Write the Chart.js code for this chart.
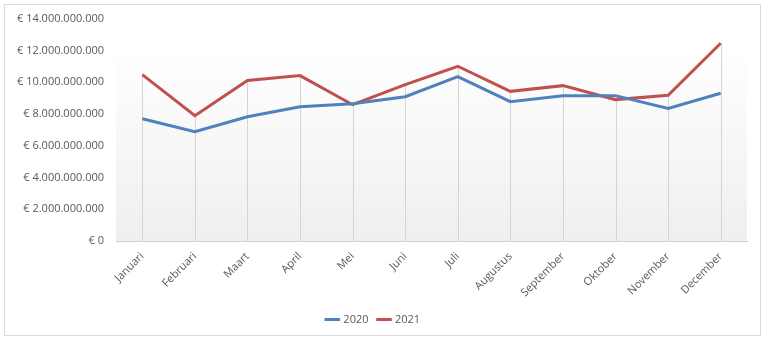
<!DOCTYPE html>
<html>
<head>
<meta charset="utf-8">
<script src="https://cdn.jsdelivr.net/npm/chart.js@4"></script>
<style>
  html, body { margin: 0; padding: 0; background: #fff; }
  #wrap { position: relative; width: 768px; height: 343px; }
  #frame { position: absolute; left: 4px; top: 4px; width: 757px; height: 332px; border: 1px solid #d9d9d9; box-sizing: border-box; }
  canvas { position: absolute; left: 0; top: 0; }
</style>
</head>
<body>
<div id="wrap">
  <div id="frame"></div>
  <canvas id="omzet-chart" width="768" height="343"></canvas>
</div>
<script>
const maanden = ['Januari', 'Februari', 'Maart', 'April', 'Mei', 'Juni', 'Juli', 'Augustus', 'September', 'Oktober', 'November', 'December'];
const omzet2020 = [7700000000, 6880000000, 7820000000, 8450000000, 8640000000, 9080000000, 10350000000, 8770000000, 9150000000, 9150000000, 8350000000, 9300000000];
const omzet2021 = [10470000000, 7890000000, 10100000000, 10410000000, 8580000000, 9840000000, 11000000000, 9420000000, 9780000000, 8900000000, 9170000000, 12450000000];

const tekstKleur = '#595959';
const lettertype = "'Open Sans', sans-serif";

function euro(val) {
    let s = Math.round(val).toString();
    s = s.replace(/\B(?=(\d{3})+(?!\d))/g, '.');
    return '€ ' + s;
}

// achtergrond van het plotgebied: wit naar lichtgrijs
const plotAchtergrond = {
    id: 'plotAchtergrond',
    beforeDraw(chart) {
        const { ctx, chartArea: a } = chart;
        const grad = ctx.createLinearGradient(0, a.top, 0, a.bottom);
        grad.addColorStop(0, '#ffffff');
        grad.addColorStop(0.12, '#ffffff');
        grad.addColorStop(1, '#efefef');
        ctx.save();
        ctx.fillStyle = grad;
        ctx.fillRect(a.left, a.top, a.right - a.left, a.bottom - a.top);
        ctx.restore();
    }
};

// loodlijnen van het hoogste punt naar de as
const loodlijnen = {
    id: 'loodlijnen',
    beforeDatasetsDraw(chart) {
        const { ctx, scales } = chart;
        ctx.save();
        ctx.strokeStyle = '#d4d4d4';
        ctx.lineWidth = 1;
        for (let i = 0; i < maanden.length; i++) {
            const x = Math.round(scales.x.getPixelForValue(i)) + 0.5;
            const top = scales.y.getPixelForValue(Math.max(omzet2020[i], omzet2021[i]));
            const bottom = scales.y.getPixelForValue(0);
            ctx.beginPath();
            ctx.moveTo(x, top);
            ctx.lineTo(x, bottom);
            ctx.stroke();
        }
        ctx.restore();
    }
};

const ctx = document.getElementById('omzet-chart').getContext('2d');

new Chart(ctx, {
    type: 'line',
    data: {
        labels: maanden,
        datasets: [
            {
                label: '2020',
                data: omzet2020,
                borderColor: '#4f81bd',
                backgroundColor: '#4f81bd',
                borderWidth: 3,
                pointRadius: 0,
                tension: 0,
            },
            {
                label: '2021',
                data: omzet2021,
                borderColor: '#c0504d',
                backgroundColor: '#c0504d',
                borderWidth: 3,
                pointRadius: 0,
                tension: 0,
            }
        ]
    },
    options: {
        responsive: false,
        animation: false,
        layout: { padding: { top: 18, right: 21, bottom: 8, left: 0 } },
        scales: {
            x: {
                offset: true,
                grid: { display: false, drawTicks: false },
                border: { color: '#d0d0d0' },
                ticks: {
                    color: tekstKleur,
                    font: { family: lettertype, size: 11 },
                    minRotation: 45,
                    maxRotation: 45,
                    padding: 9,
                    autoSkip: false,
                },
                afterFit(scale) { scale.height = 63; }
            },
            y: {
                min: 0,
                max: 14000000000,
                grid: { display: false, drawTicks: false },
                border: { display: false },
                ticks: {
                    stepSize: 2000000000,
                    color: tekstKleur,
                    font: { family: lettertype, size: 11 },
                    padding: 12,
                    callback: function(val) {
                        return euro(val);
                    }
                },
                afterFit(scale) { scale.width = 116; }
            }
        },
        plugins: {
            legend: {
                position: 'bottom',
                labels: {
                    color: tekstKleur,
                    font: { family: lettertype, size: 11 },
                    usePointStyle: true,
                    pointStyle: 'line',
                    boxWidth: 28,
                    padding: 10,
                }
            },
            tooltip: { enabled: false }
        }
    },
    plugins: [plotAchtergrond, loodlijnen]
});
</script>
</body>
</html>
